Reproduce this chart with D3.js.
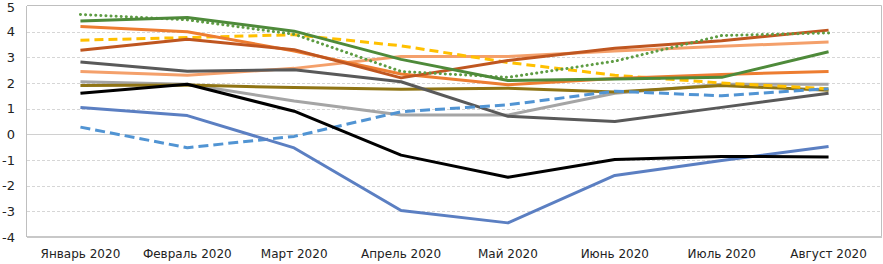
<!DOCTYPE html>
<html lang="ru">
<head>
<meta charset="UTF-8">
<title>Chart</title>
<script src="https://d3js.org/d3.v7.min.js"></script>
<style>
  body { margin: 0; background: #fff; }
  text { font-family: "DejaVu Sans", sans-serif; font-size: 12px; fill: #222; }
  .ylab { font-size: 13px; }
</style>
</head>
<body>
<script>
    const width = 883;
    const height = 264;

    const months = ["Январь 2020", "Февраль 2020", "Март 2020", "Апрель 2020",
                    "Май 2020", "Июнь 2020", "Июль 2020", "Август 2020"];
    const yTicks = [-4, -3, -2, -1, 0, 1, 2, 3, 4, 5];

    const lightGray  = [2.05, 1.95, 1.3, 0.75, 0.75, 1.6, 1.95, 1.95];
    const olive      = [1.9, 1.92, 1.82, 1.76, 1.8, 1.65, 1.9, 1.72];
    const salmon     = [2.45, 2.3, 2.57, 3.03, 3.03, 3.25, 3.43, 3.6];
    const darkGray   = [2.82, 2.46, 2.52, 2.05, 0.7, 0.5, 1.05, 1.6];
    const yellowDash = [3.67, 3.77, 3.88, 3.45, 2.8, 2.3, 2.0, 1.78];
    const orange     = [4.2, 4.0, 3.25, 2.35, 1.93, 2.18, 2.33, 2.45];
    const brown      = [3.28, 3.7, 3.3, 2.2, 2.88, 3.35, 3.65, 4.06];
    const greenDot   = [4.67, 4.46, 3.9, 2.45, 2.22, 2.85, 3.85, 3.95];
    const green      = [4.42, 4.55, 4.02, 2.92, 2.1, 2.16, 2.22, 3.22];
    const blueDash   = [0.28, -0.52, -0.08, 0.88, 1.15, 1.68, 1.5, 1.78];
    const blue       = [1.05, 0.73, -0.53, -2.97, -3.45, -1.6, -1.02, -0.47];
    const black      = [1.6, 1.95, 0.9, -0.81, -1.67, -0.98, -0.86, -0.88];

    const series = [
        {values: lightGray,  color: "#a5a5a5"},
        {values: olive,      color: "#8f7414"},
        {values: salmon,     color: "#f4a06b"},
        {values: darkGray,   color: "#595959"},
        {values: yellowDash, color: "#ffc000", dash: "9,5"},
        {values: orange,     color: "#ed7d31"},
        {values: brown,      color: "#bf5620"},
        {values: greenDot,   color: "#5e9c43", dash: "0.1,5", cap: "round"},
        {values: green,      color: "#4e8a3a"},
        {values: blueDash,   color: "#5194d3", dash: "10,5"},
        {values: blue,       color: "#5b7fc2"},
        {values: black,      color: "#000000"}
    ];

    const margin = {top: 6, right: 1, bottom: 27, left: 27};

    const svg = d3.select("body").append("svg")
            .attr("width", width).attr("height", height);

    const x = d3.scaleBand()
            .domain(months)
            .range([margin.left, width - margin.right]);

    const y = d3.scaleLinear()
            .domain([-4, 5])
            .range([height - margin.bottom, margin.top]);

    // grid
    svg.append("g")
            .selectAll("line")
            .data(yTicks.filter(d => d > -4 && d < 5))
            .join("line")
            .attr("x1", margin.left).attr("x2", width - margin.right)
            .attr("y1", d => Math.round(y(d)) + 0.5).attr("y2", d => Math.round(y(d)) + 0.5)
            .style("stroke", d => d === 0 ? "#d0d0d0" : "#d6d6d6")
            .style("stroke-dasharray", d => d === 0 ? null : "3,2");

    // frame
    svg.append("path")
            .attr("d", `M${margin.left},${Math.round(y(5)) - 0.5}H${width - margin.right - 0.5}V${height - margin.bottom}`)
            .style("fill", "none")
            .style("stroke", "#bfbfbf");

    svg.append("line")
            .attr("x1", margin.left - 0.5).attr("x2", margin.left - 0.5)
            .attr("y1", y(5)).attr("y2", y(-4))
            .style("stroke", "#bfbfbf");

    svg.append("line")
            .attr("x1", margin.left).attr("x2", width - margin.right)
            .attr("y1", y(-4)).attr("y2", y(-4))
            .style("stroke", "#c8c8c8")
            .style("stroke-width", 2);

    // y labels
    svg.append("g")
            .selectAll("text")
            .data(yTicks)
            .join("text")
            .attr("class", "ylab")
            .attr("x", 15)
            .attr("y", d => d === 5 ? y(d) + 1 : y(d))
            .attr("dy", "0.35em")
            .attr("text-anchor", "end")
            .text(d => d);

    // x labels
    svg.append("g")
            .selectAll("text")
            .data(months)
            .join("text")
            .attr("x", d => x(d) + x.bandwidth() / 2)
            .attr("y", 258)
            .attr("text-anchor", "middle")
            .text(d => d);

    const line = d3.line()
            .x((d, i) => x(months[i]) + x.bandwidth() / 2)
            .y(d => y(d));

    svg.append("g")
            .selectAll("path")
            .data(series)
            .join("path")
            .attr("d", d => line(d.values))
            .style("fill", "none")
            .style("stroke", d => d.color)
            .style("stroke-width", 3)
            .style("stroke-linejoin", "round")
            .style("stroke-linecap", d => d.cap || "butt")
            .style("stroke-dasharray", d => d.dash || null);
</script>
</body>
</html>
